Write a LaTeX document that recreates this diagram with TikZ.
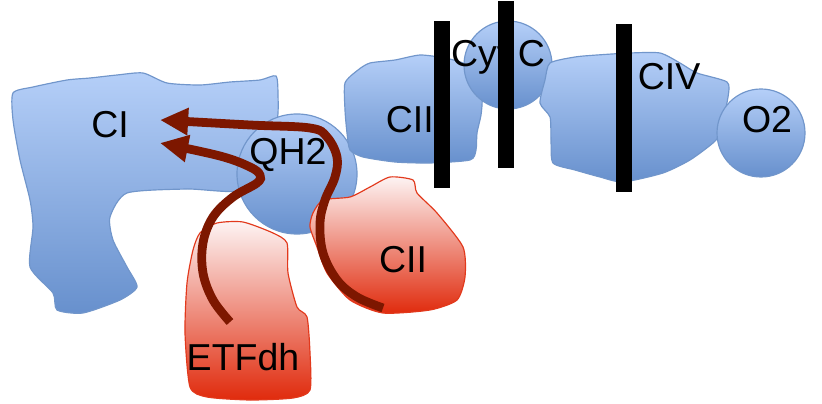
\documentclass[tikz,border=0pt]{standalone}
\usepackage{fontspec}
\setmainfont{Liberation Sans}
\usetikzlibrary{arrows.meta}
\definecolor{bluetop}{HTML}{B5CFF8}
\definecolor{bluebot}{HTML}{6790CD}
\definecolor{blueline}{HTML}{7196CB}
\definecolor{redtop}{HTML}{FDF4F4}
\definecolor{redbot}{HTML}{E02A0C}
\definecolor{redline}{HTML}{E2391C}
\definecolor{flowred}{HTML}{7D1700}
\begin{document}
\begin{tikzpicture}[x=0.03cm,y=-0.03cm,
  every node/.style={font=\fontsize{32}{36}\selectfont},
  bluebody/.style={draw=blueline,line width=1pt,top color=bluetop,bottom color=bluebot},
  redbody/.style={draw=redline,line width=1pt,top color=redtop,bottom color=redbot},
  blocker/.style={fill=black},
  flow/.style={draw=flowred,line width=7.5pt,-{Triangle[length=24pt,width=22pt]}}]
\useasboundingbox (0,0) rectangle (822,404);
% complex I and ubiquinol
\path[bluebody] plot[smooth cycle,tension=0.4] coordinates {(13,93) (33,87) (67,80) (90,78) (117,75) (143,73) (167,83) (200,85) (230,82) (260,80) (276,76) (278,95) (277,120) (262,150) (245,190) (187,189) (127,193) (110,217) (113,240) (127,267) (137,287) (120,300) (83,313) (57,310) (53,293) (30,267) (33,227) (30,200) (20,160) (13,120)};
\path[bluebody] (297,174) circle (1.8cm);
% complex III, cytochrome c, complex IV, oxygen
\path[bluebody] plot[smooth cycle,tension=0.4] coordinates {(345,83) (358,70) (370,63) (395,60) (420,55) (445,58) (463,63) (475,72) (482,97) (481,115) (477,133) (476,150) (470,160) (430,163) (395,162) (363,157) (350,150) (347,133) (345,110)};
\path[bluebody] (508,65) circle (1.32cm);
\path[bluebody] plot[smooth cycle,tension=0.4] coordinates {(540,103) (545,80) (550,63) (575,57) (597,55) (630,53) (660,53) (680,63) (697,73) (727,82) (728,97) (720,133) (713,143) (690,160) (663,173) (623,182) (600,177) (575,170) (553,163) (551,140) (550,117)};
\path[bluebody] (761,133) circle (1.32cm);
% electron donors
\path[redbody] plot[smooth cycle,tension=0.4] coordinates {(200,233) (217,223) (243,222) (273,233) (287,243) (288,273) (297,307) (307,317) (310,353) (310,390) (293,398) (250,400) (207,397) (190,387) (185,333) (187,283) (193,250)};
\path[redbody] plot[smooth cycle,tension=0.4] coordinates {(313,213) (323,200) (350,197) (370,187) (390,177) (413,180) (417,193) (437,213) (463,247) (465,277) (457,300) (430,310) (383,313) (350,300) (327,273) (317,247) (310,227)};
% labels
\node (ci) at (110,125) {CI};
\node (qh2) at (288,155) {QH2};
\node (ciii) at (415,120) {CIII};
\node (cytc) at (498,57) {Cyt C};
\node (civ) at (669,77) {CIV};
\node (o2) at (767,120) {O2};
\node (cii) at (403,260) {CII};
\node (etfdh) at (243,357) {ETFdh};
% electron flow into CI
\coordinate (ciiStart) at (383,308);
\coordinate (etfStart) at (230,322);
\coordinate (ciTop) at (160,120);
\coordinate (ciLow) at (160,143);
\draw[flow] plot[smooth,tension=0.6] coordinates {(ciiStart) (357,297) (337,280) (323,253) (320,223) (325,200) (335,177) (337,157) (327,137) (310,128) (250,125) (ciTop)};
\draw[flow] plot[smooth,tension=0.6] coordinates {(etfStart) (213,300) (203,273) (203,243) (213,217) (233,197) (257,183) (260,175) (250,167) (220,156) (ciLow)};
% blocked steps
\path[blocker] (434,21) rectangle (450,188);
\path[blocker] (498,1) rectangle (514,168);
\path[blocker] (616,24) rectangle (632,192);
\end{tikzpicture}
\end{document}
